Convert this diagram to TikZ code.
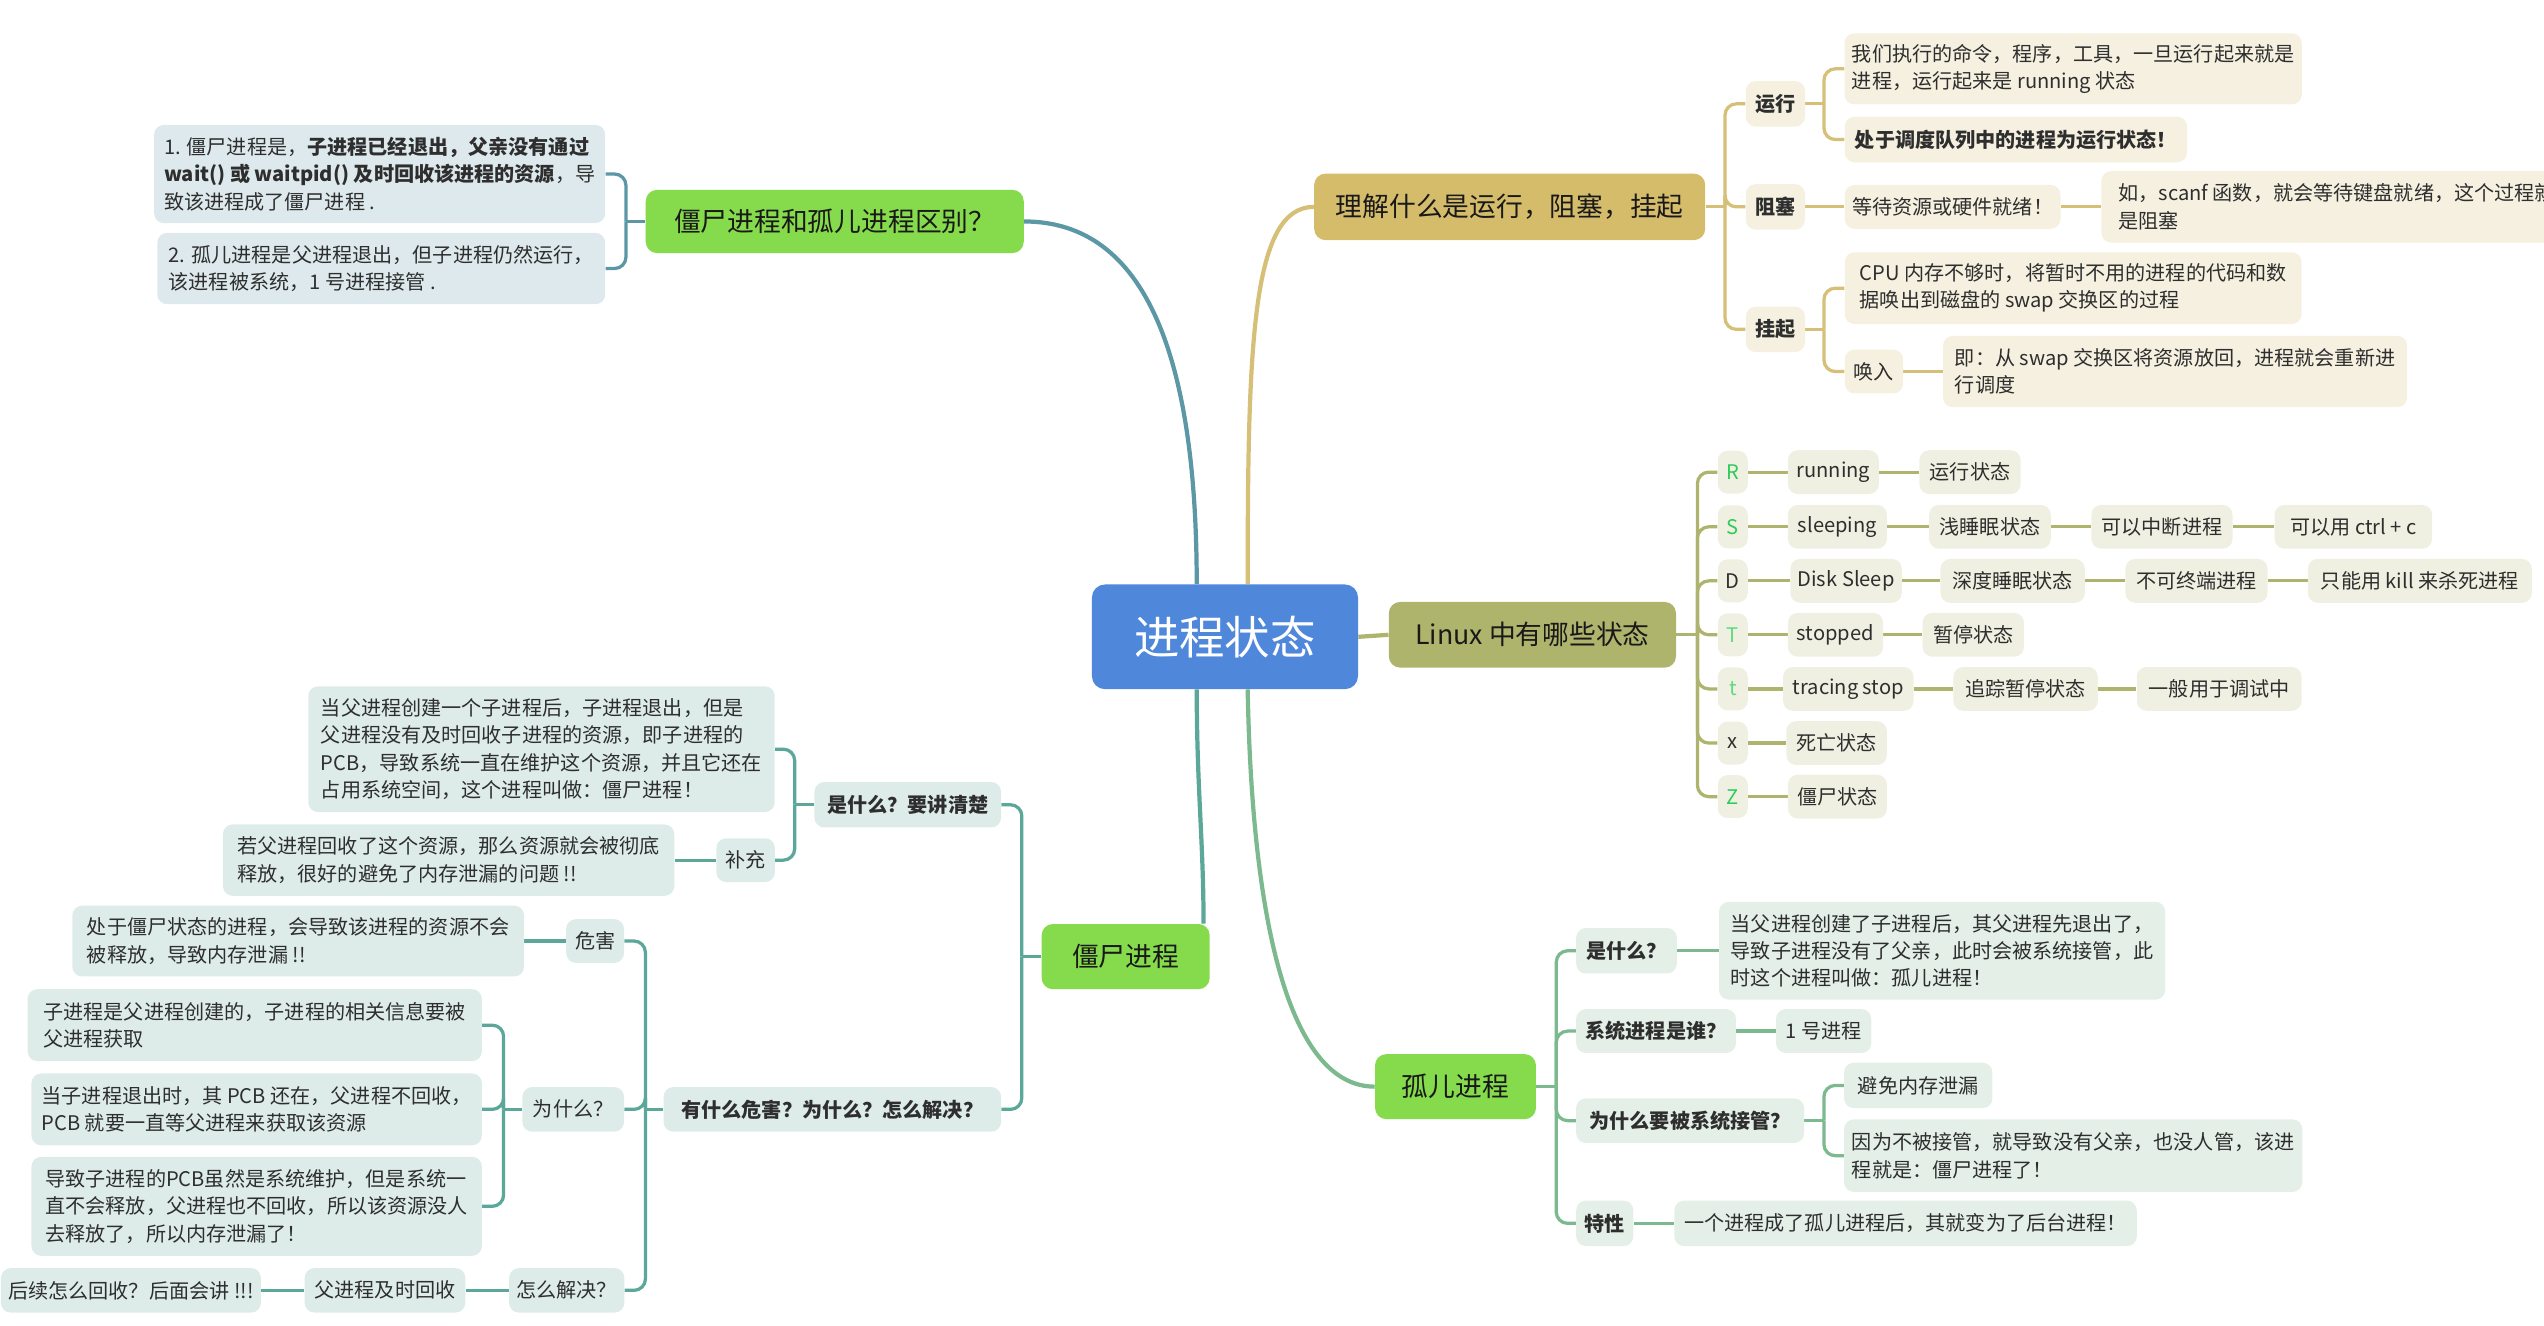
\documentclass[tikz,border=0pt]{standalone}
\usepackage{fontspec}
\setmainfont{Noto Sans CJK SC}
\usetikzlibrary{backgrounds}
\definecolor{txt}{HTML}{2E2E2E}
\definecolor{cblue}{HTML}{4F87DA}
\definecolor{goldM}{HTML}{D4BC6A}
\definecolor{goldL}{HTML}{D6C077}
\definecolor{goldF}{HTML}{F5F0E0}
\definecolor{oliveM}{HTML}{AFB46C}
\definecolor{oliveL}{HTML}{AEB46E}
\definecolor{oliveF}{HTML}{F0F0E2}
\definecolor{greenM}{HTML}{85DB4B}
\definecolor{tealL}{HTML}{5C97A5}
\definecolor{tealF}{HTML}{DDE9EC}
\definecolor{zomL}{HTML}{5BA89A}
\definecolor{zomF}{HTML}{DDECE9}
\definecolor{orpL}{HTML}{7DB98F}
\definecolor{orpF}{HTML}{E3EFE7}
\definecolor{ltrA}{HTML}{2DCB5A}
\definecolor{ltrB}{HTML}{5FDB7F}
\newcommand\fsm{\fontsize{12.4}{16.8}\selectfont}
\newcommand\fmd{\fontsize{16.5}{20}\selectfont}
\newcommand\flg{\fontsize{28}{32}\selectfont}
\tikzset{
  bx/.style={rounded corners=6pt, inner xsep=4.5pt, inner ysep=2pt, text=txt, font=\fsm, align=left, minimum height=27pt},
  mainbx/.style={rounded corners=7pt, inner xsep=8pt, inner ysep=2pt, text=black!90, font=\fmd, align=center},
  gbx/.style={bx, fill=goldF},
  obx/.style={bx, fill=oliveF},
  tbx/.style={bx, fill=tealF},
  zbx/.style={bx, fill=zomF},
  rbx/.style={bx, fill=orpF},
  ltr/.style={obx, inner xsep=2pt, minimum width=18.5pt, minimum height=26.5pt, align=center},
  wM/.style={line width=2.6pt},
  wS/.style={line width=2pt},
}
\begin{document}
\begin{tikzpicture}[x=1pt,y=-1pt]
\useasboundingbox (0,0) rectangle (1568,817);
\clip (0,0) rectangle (1568,817);
% centre
\node[rounded corners=8pt, fill=cblue, text=white, font=\flg, minimum width=164pt, minimum height=64.5pt] (C) at (755,392.5) {进程状态};
% main branches
\node[mainbx, fill=goldM, minimum width=241pt, minimum height=41pt] (L1) at (930.5,127.5) {理解什么是运行，阻塞，挂起};
\node[mainbx, fill=greenM, minimum width=233pt, minimum height=39pt] (QB) at (514.5,136.5) {僵尸进程和孤儿进程区别？};
\node[mainbx, fill=oliveM, minimum width=177pt, minimum height=40.5pt] (LX) at (944.5,391.25) {Linux 中有哪些状态};
\node[mainbx, fill=greenM, minimum width=103.6pt, minimum height=40.2pt] (JS) at (693.8,589.6) {僵尸进程};
\node[mainbx, fill=greenM, minimum width=99.2pt, minimum height=40.1pt] (GE) at (897.1,669.75) {孤儿进程};
% gold subtree
\node[gbx, minimum width=36.5pt, minimum height=28pt, font=\fsm\bfseries] (yx) at (1094.25,64) {运行};
\node[gbx, minimum width=36.5pt, minimum height=28pt, font=\fsm\bfseries] (zs) at (1094.25,127.5) {阻塞};
\node[gbx, minimum width=36.5pt, minimum height=28pt, font=\fsm\bfseries] (gq) at (1094.25,203) {挂起};
\node[gbx, minimum width=281.6pt, minimum height=43.8pt] (yx1) at (1277.8,42.4) {我们执行的命令，程序，工具，一旦运行起来就是\\进程，运行起来是 running 状态};
\node[gbx, minimum width=211pt, minimum height=28pt, font=\fsm\bfseries] (yx2) at (1242.5,86) {处于调度队列中的进程为运行状态！};
\node[gbx, minimum width=133pt] (zs1) at (1203.5,127.5) {等待资源或硬件就绪！};
\node[gbx, anchor=west, minimum width=290pt, minimum height=44pt] (zs2) at (1295,127.5) {如，scanf 函数，就会等待键盘就绪，这个过程就\\是阻塞};
\node[gbx, minimum width=281.6pt, minimum height=44.2pt] (gq1) at (1277.8,177.6) {CPU 内存不够时，将暂时不用的进程的代码和数\\据唤出到磁盘的 swap 交换区的过程};
\node[gbx, minimum width=36pt] (hr) at (1155,229) {唤入};
\node[gbx, minimum width=286pt, minimum height=44pt] (hr1) at (1340.6,229) {即：从 swap 交换区将资源放回，进程就会重新进\\行调度};
% olive subtree
\node[ltr, text=ltrA] (lR) at (1068,291) {R};
\node[ltr, text=ltrA] (lS) at (1068,324.7) {S};
\node[ltr] (lD) at (1068,358) {D};
\node[ltr, text=ltrB] (lT) at (1068,391.25) {T};
\node[ltr, text=ltrB] (lt) at (1068,424.6) {t};
\node[ltr] (lx) at (1068,458) {x};
\node[ltr, text=ltrA] (lZ) at (1068,491) {Z};
\node[obx, minimum width=56pt] (R1) at (1130,291) {running};
\node[obx, minimum width=62.4pt] (R2) at (1214.2,291) {运行状态};
\node[obx, minimum width=61pt] (S1) at (1132.5,324.7) {sleeping};
\node[obx, minimum width=75pt] (S2) at (1226.5,324.7) {浅睡眠状态};
\node[obx, minimum width=87pt] (S3) at (1332.5,324.7) {可以中断进程};
\node[obx, minimum width=97pt] (S4) at (1450.5,324.7) {可以用 ctrl + c};
\node[obx, minimum width=68.4pt] (D1) at (1137.8,358) {Disk Sleep};
\node[obx, minimum width=89pt] (D2) at (1240.5,358) {深度睡眠状态};
\node[obx, minimum width=87.6pt] (D3) at (1353.8,358) {不可终端进程};
\node[obx, minimum width=138pt, inner xsep=2pt] (D4) at (1491.5,358) {只能用 kill 来杀死进程};
\node[obx, minimum width=58.7pt] (T1) at (1131.3,391.25) {stopped};
\node[obx, minimum width=62.5pt] (T2) at (1216.2,391.25) {暂停状态};
\node[obx, minimum width=80.4pt] (t1) at (1139.2,424.6) {tracing stop};
\node[obx, minimum width=89pt] (t2) at (1248.5,424.6) {追踪暂停状态};
\node[obx, minimum width=101.6pt] (t3) at (1367.8,424.6) {一般用于调试中};
\node[obx, minimum width=62pt] (x1) at (1132,458) {死亡状态};
\node[obx, minimum width=61pt] (Z1) at (1132.5,491) {僵尸状态};
% orphan subtree
\node[rbx, minimum width=62pt, minimum height=28pt, font=\fsm\bfseries] (o1) at (1002.5,586) {是什么？};
\node[rbx, minimum width=275pt, minimum height=60.3pt] (o1a) at (1197,586) {当父进程创建了子进程后，其父进程先退出了，\\导致子进程没有了父亲，此时会被系统接管，此\\时这个进程叫做：孤儿进程！};
\node[rbx, minimum width=98.5pt, font=\fsm\bfseries] (o2) at (1020.7,635.5) {系统进程是谁？};
\node[rbx, minimum width=58.7pt] (o2a) at (1124,635.5) {1 号进程};
\node[rbx, minimum width=140.5pt, minimum height=27.5pt, font=\fsm\bfseries] (o3) at (1041.7,690.7) {为什么要被系统接管？};
\node[rbx, minimum width=91.4pt, minimum height=28pt] (o3a) at (1182.3,669) {避免内存泄漏};
\node[rbx, minimum width=282.4pt, minimum height=44.7pt] (o3b) at (1277.8,712.3) {因为不被接管，就导致没有父亲，也没人管，该进\\程就是：僵尸进程了！};
\node[rbx, minimum width=35.2pt, minimum height=28pt, font=\fsm\bfseries] (o4) at (989.1,754) {特性};
\node[rbx, minimum width=285pt, minimum height=28pt] (o4a) at (1174.5,754) {一个进程成了孤儿进程后，其就变为了后台进程！};
% difference subtree
\node[tbx, minimum width=278pt, minimum height=60.5pt] (q1) at (234,107.25) {1. 僵尸进程是，\textbf{子进程已经退出，父亲没有通过}\\\textbf{wait() 或 waitpid() 及时回收该进程的资源}，导\\致该进程成了僵尸进程 .};
\node[tbx, minimum width=276pt, minimum height=44pt] (q2) at (235,165.5) {2. 孤儿进程是父进程退出，但子进程仍然运行，\\该进程被系统，1 号进程接管 .};
% zombie subtree
\node[zbx, minimum width=115pt, minimum height=28pt, font=\fsm\bfseries] (z1) at (559.5,496) {是什么？要讲清楚};
\node[zbx, minimum width=208pt, minimum height=27.5pt, font=\fsm\bfseries] (z2) at (513,683.75) {有什么危害？为什么？怎么解决？};
\node[zbx, minimum width=287.5pt, minimum height=77.5pt] (z1a) at (333.75,461.75) {当父进程创建一个子进程后，子进程退出，但是\\父进程没有及时回收子进程的资源，即子进程的\\PCB，导致系统一直在维护这个资源，并且它还在\\占用系统空间，这个进程叫做：僵尸进程！};
\node[zbx, minimum width=36pt] (z1b) at (459.6,530.15) {补充};
\node[zbx, minimum width=278.2pt, minimum height=44pt] (z1c) at (276.5,530.15) {若父进程回收了这个资源，那么资源就会被彻底\\释放，很好的避免了内存泄漏的问题 !!};
\node[zbx, minimum width=35.6pt] (z2a) at (366.8,580) {危害};
\node[zbx, minimum width=278.4pt, minimum height=43.6pt] (z2a1) at (183.8,580) {处于僵尸状态的进程，会导致该进程的资源不会\\被释放，导致内存泄漏 !!};
\node[zbx, minimum width=62.6pt, minimum height=27.5pt] (z2b) at (353.3,683.75) {为什么？};
\node[zbx, minimum width=280pt, minimum height=44.3pt] (z2b1) at (157,631.85) {子进程是父进程创建的，子进程的相关信息要被\\父进程获取};
\node[zbx, minimum width=277.6pt, minimum height=44.3pt] (z2b2) at (158.2,683.75) {当子进程退出时，其 PCB 还在，父进程不回收，\\PCB 就要一直等父进程来获取该资源};
\node[zbx, minimum width=277.6pt, minimum height=61pt] (z2b3) at (158.2,743.5) {导致子进程的PCB虽然是系统维护，但是系统一\\直不会释放，父进程也不回收，所以该资源没人\\去释放了，所以内存泄漏了！};
\node[zbx, minimum width=70.6pt, minimum height=27.4pt] (z2c) at (349.3,795.3) {怎么解决？};
\node[zbx, minimum width=99pt, minimum height=27.4pt] (z2c1) at (237.3,795.3) {父进程及时回收};
\node[zbx, anchor=east, minimum height=27.4pt] (z2c2) at (161,795.3) {后续怎么回收？后面会讲 !!!};
% connectors
\begin{pgfonlayer}{background}
\draw[goldL, wM] ([xshift=14pt]C.north) .. controls +(0,-150) and +(-38,0) .. (L1.west);
\draw[tealL, wM] ([xshift=-17.4pt]C.north) .. controls +(0,-140) and +(75,0) .. (QB.east);
\draw[zomL, wM] ([xshift=-17.4pt]C.south) .. controls +(0,60) and +(0,-50) .. ([xshift=-4pt]JS.north east);
\draw[orpL, wM] ([xshift=14pt]C.south) .. controls +(3,160) and +(-48,0) .. (GE.west);
\draw[oliveL, wM] (C.east) -- (LX.west);
% gold
\begin{scope}[goldL, wS, rounded corners=7pt]
\draw (L1.east) -- ++(12,0) coordinate (gs);
\draw (gs) |- (yx.west); \draw (gs) |- (zs.west); \draw (gs) |- (gq.west);
\draw (yx.east) -- ++(11.5,0) coordinate (ys);
\draw (ys) |- (yx1.west); \draw (ys) |- (yx2.west);
\draw (zs.east) -- (zs1.west); \draw (zs1.east) -- (zs2.west);
\draw (gq.east) -- ++(11.5,0) coordinate (qs);
\draw (qs) |- (gq1.west); \draw (qs) |- (hr.west);
\draw (hr.east) -- (hr1.west);
\end{scope}
% olive
\begin{scope}[oliveL, wS, rounded corners=7pt]
\draw (LX.east) -- ++(13,0) coordinate (ls);
\foreach \n in {lR,lS,lD,lT,lt,lx,lZ} {\draw (ls) |- (\n.west);}
\draw (lR.east) -- (R1.west); \draw (R1.east) -- (R2.west);
\draw (lS.east) -- (S1.west); \draw (S1.east) -- (S2.west); \draw (S2.east) -- (S3.west); \draw (S3.east) -- (S4.west);
\draw (lD.east) -- (D1.west); \draw (D1.east) -- (D2.west); \draw (D2.east) -- (D3.west); \draw (D3.east) -- (D4.west);
\draw (lT.east) -- (T1.west); \draw (T1.east) -- (T2.west);
\draw (lt.east) -- (t1.west); \draw (t1.east) -- (t2.west); \draw (t2.east) -- (t3.west);
\draw (lx.east) -- (x1.west);
\draw (lZ.east) -- (Z1.west);
\end{scope}
% orphan
\begin{scope}[orpL, wS, rounded corners=7pt]
\draw (GE.east) -- ++(12.3,0) coordinate (os);
\foreach \n in {o1,o2,o3,o4} {\draw (os) |- (\n.west);}
\draw (o1.east) -- (o1a.west);
\draw (o2.east) -- (o2a.west);
\draw (o3.east) -- ++(12,0) coordinate (o3s);
\draw (o3s) |- (o3a.west); \draw (o3s) |- (o3b.west);
\draw (o4.east) -- (o4a.west);
\end{scope}
% difference
\begin{scope}[tealL, wS, rounded corners=7pt]
\draw (QB.west) -- ++(-12,0) coordinate (qbs);
\draw (qbs) |- (q1.east); \draw (qbs) |- (q2.east);
\end{scope}
% zombie
\begin{scope}[zomL, wS, rounded corners=7pt]
\draw (JS.west) -- ++(-12,0) coordinate (jss);
\draw (jss) |- (z1.east); \draw (jss) |- (z2.east);
\draw (z1.west) -- ++(-12,0) coordinate (z1s);
\draw (z1s) |- (z1a.east); \draw (z1s) |- (z1b.east);
\draw (z1b.west) -- (z1c.east);
\draw (z2.west) -- ++(-11,0) coordinate (z2s);
\draw (z2s) |- (z2a.east); \draw (z2s) |- (z2b.east); \draw (z2s) |- (z2c.east);
\draw (z2a.west) -- (z2a1.east);
\draw (z2b.west) -- ++(-11.4,0) coordinate (z2bs);
\draw (z2bs) |- (z2b1.east); \draw (z2bs) |- (z2b2.east); \draw (z2bs) |- (z2b3.east);
\draw (z2c.west) -- (z2c1.east); \draw (z2c1.west) -- (z2c2.east);
\end{scope}
\end{pgfonlayer}
\end{tikzpicture}
\end{document}
